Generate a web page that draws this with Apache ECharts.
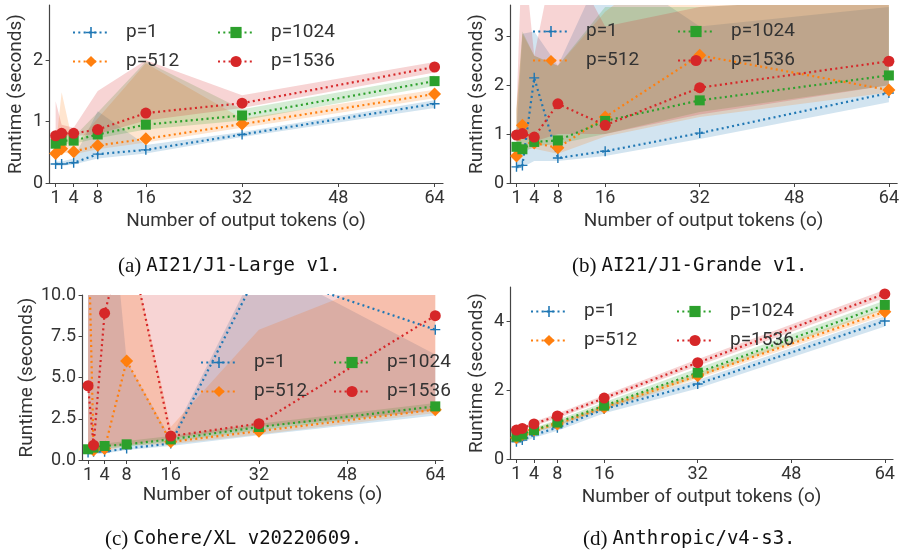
<!DOCTYPE html>
<html>
<head>
<meta charset="utf-8">
<script src="https://cdn.jsdelivr.net/npm/echarts@6/dist/echarts.min.js"></script>
<style>
  html, body { margin: 0; padding: 0; background: #fff; }
  #chart { width: 902px; height: 552px; }
</style>
</head>
<body>
<div id="chart"></div>
<script>
// x positions (number of output tokens) and tick labels
const xs = [1, 2, 4, 8, 16, 32, 64];
const xTicks = [1, 4, 8, 16, 32, 48, 64];
const names = ['p=1', 'p=512', 'p=1024', 'p=1536'];
const colors = ['#1f77b4', '#ff7f0e', '#2ca02c', '#d62728'];

// (a) AI21/J1-Large v1
const a_p1 = [0.31, 0.31, 0.33, 0.47, 0.54, 0.79, 1.29];
const a_p1_lo = [0.28, 0.28, 0.30, 0.40, 0.48, 0.75, 1.22];
const a_p1_hi = [0.35, 0.35, 0.40, 1.17, 0.62, 0.83, 1.35];
const a_p512 = [0.48, 0.56, 0.51, 0.61, 0.72, 0.96, 1.45];
const a_p512_lo = [0.44, 0.50, 0.47, 0.55, 0.66, 0.90, 1.38];
const a_p512_hi = [0.55, 1.48, 0.60, 1.05, 1.95, 1.05, 1.52];
const a_p1024 = [0.64, 0.69, 0.69, 0.79, 0.95, 1.10, 1.66];
const a_p1024_lo = [0.60, 0.64, 0.64, 0.73, 0.87, 1.02, 1.58];
const a_p1024_hi = [0.70, 0.90, 0.75, 1.15, 1.98, 1.20, 1.75];
const a_p1536 = [0.77, 0.81, 0.81, 0.87, 1.14, 1.30, 1.89];
const a_p1536_lo = [0.72, 0.76, 0.76, 0.80, 1.02, 1.22, 1.80];
const a_p1536_hi = [1.33, 0.95, 0.90, 1.50, 2.00, 1.43, 1.97];

// (b) AI21/J1-Grande v1
const b_p1 = [0.33, 0.36, 2.15, 0.51, 0.65, 1.02, 1.84];
const b_p1_lo = [0.28, 0.32, 0.45, 0.45, 0.55, 0.90, 1.65];
const b_p1_hi = [1.00, 3.05, 3.10, 2.40, 4.50, 3.20, 3.60];
const b_p512 = [0.55, 1.18, 0.82, 0.72, 1.35, 2.61, 1.90];
const b_p512_lo = [0.45, 0.70, 0.70, 0.60, 0.95, 1.35, 1.85];
const b_p512_hi = [1.50, 3.05, 2.60, 2.40, 3.50, 5.00, 5.00];
const b_p1024 = [0.74, 0.69, 0.84, 0.87, 1.27, 1.69, 2.20];
const b_p1024_lo = [0.65, 0.60, 0.75, 0.80, 1.00, 1.45, 2.00];
const b_p1024_hi = [1.50, 3.10, 2.60, 2.40, 3.60, 3.60, 3.80];
const b_p1536 = [0.98, 1.01, 0.94, 1.62, 1.18, 1.95, 2.49];
const b_p1536_lo = [0.85, 0.90, 0.85, 1.00, 1.00, 1.40, 2.00];
const b_p1536_hi = [1.50, 5.00, 2.60, 5.00, 3.20, 3.60, 3.80];

// (c) Cohere/XL v20220609
const c_p1 = [0.45, 0.50, 0.50, 0.70, 1.00, 11.5, 7.90];
const c_p1_lo = [0.30, 0.35, 0.40, 0.60, 0.85, 1.50, 2.70];
const c_p1_hi = [20.0, 20.0, 20.0, 6.00, 1.30, 12.0, 6.40];
const c_p512 = [15.0, 0.60, 0.70, 6.00, 1.10, 1.75, 3.05];
const c_p512_lo = [0.50, 0.45, 0.50, 0.90, 0.95, 1.55, 2.85];
const c_p512_hi = [20.0, 20.0, 20.0, 14.0, 2.00, 7.90, 12.1];
const c_p1024 = [0.65, 0.75, 0.85, 0.95, 1.25, 2.00, 3.25];
const c_p1024_lo = [0.55, 0.60, 0.70, 0.80, 1.10, 1.80, 3.05];
const c_p1024_hi = [0.80, 0.90, 1.00, 1.15, 1.45, 2.20, 3.45];
const c_p1536 = [4.50, 0.90, 8.90, 14.0, 1.45, 2.20, 8.75];
const c_p1536_lo = [0.80, 0.80, 0.85, 0.90, 1.30, 2.00, 3.00];
const c_p1536_hi = [25.0, 20.0, 30.0, 40.0, 25.0, 30.0, 30.0];

// (d) Anthropic/v4-s3
const d_p1 = [0.50, 0.55, 0.70, 0.91, 1.45, 2.18, 4.01];
const d_p1_lo = [0.42, 0.48, 0.62, 0.82, 1.33, 2.05, 3.85];
const d_p1_hi = [0.58, 0.63, 0.78, 1.00, 1.55, 2.30, 4.15];
const d_p512 = [0.62, 0.71, 0.84, 1.02, 1.50, 2.42, 4.28];
const d_p512_lo = [0.56, 0.65, 0.78, 0.95, 1.42, 2.33, 4.18];
const d_p512_hi = [0.68, 0.77, 0.90, 1.09, 1.58, 2.51, 4.38];
const d_p1024 = [0.65, 0.71, 0.84, 1.06, 1.55, 2.51, 4.48];
const d_p1024_lo = [0.58, 0.64, 0.77, 0.98, 1.45, 2.38, 4.35];
const d_p1024_hi = [0.72, 0.78, 0.91, 1.14, 1.65, 2.64, 4.61];
const d_p1536 = [0.84, 0.89, 1.02, 1.25, 1.77, 2.80, 4.80];
const d_p1536_lo = [0.79, 0.84, 0.96, 1.18, 1.69, 2.70, 4.68];
const d_p1536_hi = [0.89, 0.94, 1.08, 1.32, 1.85, 2.90, 4.92];

const panelData = [
  [[a_p1, a_p1_lo, a_p1_hi], [a_p512, a_p512_lo, a_p512_hi], [a_p1024, a_p1024_lo, a_p1024_hi], [a_p1536, a_p1536_lo, a_p1536_hi]],
  [[b_p1, b_p1_lo, b_p1_hi], [b_p512, b_p512_lo, b_p512_hi], [b_p1024, b_p1024_lo, b_p1024_hi], [b_p1536, b_p1536_lo, b_p1536_hi]],
  [[c_p1, c_p1_lo, c_p1_hi], [c_p512, c_p512_lo, c_p512_hi], [c_p1024, c_p1024_lo, c_p1024_hi], [c_p1536, c_p1536_lo, c_p1536_hi]],
  [[d_p1, d_p1_lo, d_p1_hi], [d_p512, d_p512_lo, d_p512_hi], [d_p1024, d_p1024_lo, d_p1024_hi], [d_p1536, d_p1536_lo, d_p1536_hi]]
];

// layout of the four panels
const panels = [
  { grid: { left: 49, top: 5, width: 394, height: 178 }, ymax: 2.90, yTicks: [0, 1, 2], dec: 0, yGap: 23, xGap: 29,
    leg: [67, 212, 18], caption: ['(a)', 'AI21/J1-Large v1.'], cap: [113, 251] },
  { grid: { left: 510, top: 5, width: 392, height: 178 }, ymax: 3.64, yTicks: [0, 1, 2, 3], dec: 0, yGap: 23, xGap: 29,
    leg: [527, 672, 17], caption: ['(b)', 'AI21/J1-Grande v1.'], cap: [567, 251] },
  { grid: { left: 82, top: 295, width: 361, height: 165 }, ymax: 10, yTicks: [0, 2.5, 5, 7.5, 10], dec: 1, yGap: 45, xGap: 26,
    leg: [195, 328, 348], caption: ['(c)', 'Cohere/XL v20220609.'], cap: [100, 524] },
  { grid: { left: 510, top: 287, width: 383, height: 172 }, ymax: 5.0, yTicks: [0, 2, 4], dec: 0, yGap: 23, xGap: 29,
    leg: [525, 671, 297], caption: ['(d)', 'Anthropic/v4-s3.'], cap: [578, 524] }
];

const symbols = [
  'path://M4.3,0h1.4v4.3h4.3v1.4h-4.3v4.3h-1.4v-4.3h-4.3v-1.4h4.3z',
  'diamond', 'rect', 'circle'
];
const symbolSizes = [10, 13, 10, 11];

function rgba(hex, a) {
  const n = parseInt(hex.slice(1), 16);
  return 'rgba(' + (n >> 16) + ',' + ((n >> 8) & 255) + ',' + (n & 255) + ',' + a + ')';
}

const textColor = '#333';
const axisColor = '#444';
const font = 'Roboto';

const grids = [], xAxes = [], yAxes = [], series = [], legends = [], titles = [];

panels.forEach((p, k) => {
  grids.push(p.grid);
  xAxes.push({
    type: 'value', gridIndex: k, min: -0.1, max: 65.4,
    name: 'Number of output tokens (o)', nameLocation: 'middle', nameGap: p.xGap,
    nameTextStyle: { fontSize: 19, color: textColor, fontFamily: font },
    axisLine: { lineStyle: { color: axisColor, width: 1.2 } },
    axisTick: { show: true, length: 4, customValues: xTicks, lineStyle: { color: axisColor } },
    axisLabel: { customValues: xTicks, fontSize: 18, color: textColor, fontFamily: font, margin: 6 },
    splitLine: { show: false }
  });
  yAxes.push({
    type: 'value', gridIndex: k, min: 0, max: p.ymax,
    name: 'Runtime (seconds)', nameLocation: 'middle', nameGap: p.yGap, nameRotate: 90,
    nameTextStyle: { fontSize: 19, color: textColor, fontFamily: font },
    axisLine: { show: true, lineStyle: { color: axisColor, width: 1.2 } },
    axisTick: { show: true, length: 4, customValues: p.yTicks, lineStyle: { color: axisColor } },
    axisLabel: { customValues: p.yTicks, fontSize: 18, color: textColor, fontFamily: font, margin: 6,
      formatter: v => v.toFixed(p.dec) },
    splitLine: { show: false }
  });

  panelData[k].forEach((d, s) => {
    const lo = d[1], hi = d[2];
    series.push({
      type: 'custom', xAxisIndex: k, yAxisIndex: k, clip: true, silent: true, z: 1,
      data: [[xs[0], lo[0]]],
      renderItem: (params, api) => {
        if (params.dataIndex !== 0) return;
        const top = xs.map((x, i) => api.coord([x, hi[i]]));
        const bot = xs.map((x, i) => api.coord([x, lo[i]])).reverse();
        return { type: 'polygon', shape: { points: top.concat(bot) }, style: { fill: rgba(colors[s], 0.2) } };
      }
    });
  });
  panelData[k].forEach((d, s) => {
    series.push({
      type: 'line', name: names[s], xAxisIndex: k, yAxisIndex: k, z: 3,
      data: xs.map((x, i) => [x, d[0][i]]),
      symbol: symbols[s], symbolSize: symbolSizes[s], showAllSymbol: true,
      lineStyle: { color: colors[s], width: 2.2, type: [2, 3.3] },
      itemStyle: { color: colors[s] }
    });
  });

  const legStyle = {
    orient: 'vertical', top: p.leg[2], itemWidth: 36, itemHeight: 14, itemGap: 10,
    textStyle: { fontSize: 19, color: textColor, fontFamily: font, padding: [0, 0, 0, 12] }
  };
  legends.push(Object.assign({ left: p.leg[0], data: [names[0], names[1]] }, legStyle));
  legends.push(Object.assign({ left: p.leg[1], data: [names[2], names[3]] }, legStyle));

  titles.push({
    left: p.cap[0], top: p.cap[1],
    text: '{s|' + p.caption[0] + '} {m|' + p.caption[1] + '}',
    textStyle: { fontWeight: 'normal', rich: {
      s: { fontFamily: 'Liberation Serif', fontSize: 21, fontWeight: 'normal', color: '#111' },
      m: { fontFamily: 'DejaVu Sans Mono', fontSize: 19, fontWeight: 'normal', color: '#111' }
    } }
  });
});

const chart = echarts.init(document.getElementById('chart'));
chart.setOption({
  backgroundColor: '#fff',
  animation: false,
  title: titles,
  grid: grids,
  xAxis: xAxes,
  yAxis: yAxes,
  legend: legends,
  series: series
});
</script>
</body>
</html>
